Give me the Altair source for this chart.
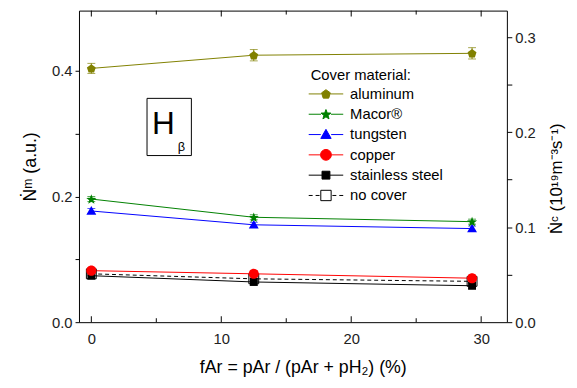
import math
import altair as alt
import pandas as pd

# ---------------- data ----------------
f_ar = [0, 12.5, 29.3]
materials = ["aluminum", "Macor®", "tungsten", "copper", "stainless steel", "no cover"]
aluminum = [0.404, 0.425, 0.428]
macor = [0.196, 0.167, 0.160]
tungsten = [0.177, 0.155, 0.149]
copper = [0.082, 0.077, 0.070]
stainless = [0.074, 0.064, 0.058]
no_cover = [0.077, 0.069, 0.065]
aluminum_err = [0.008, 0.009, 0.009]
macor_err = [0.004, 0.004, 0.004]
tungsten_err = [0.004, 0.004, 0.004]
copper_err = [0.005, 0.005, 0.005]
stainless_err = [0.005, 0.005, 0.005]
no_cover_err = [0.003, 0.003, 0.003]

left_ticks = [0, 0.1, 0.2, 0.3, 0.4]
right_ticks = [0, 0.05, 0.1, 0.15, 0.2, 0.25, 0.3]
x_label_ticks = [0, 10, 20, 30]
x_minor_ticks = [5, 15, 25]

series = [aluminum, macor, tungsten, copper, stainless, no_cover]
errors = [aluminum_err, macor_err, tungsten_err, copper_err, stainless_err, no_cover_err]
rows = []
for m, ys, es in zip(materials, series, errors):
    for x, y, e in zip(f_ar, ys, es):
        rows.append({"material": m, "f": x, "y": y, "e": e})
df = pd.DataFrame(rows)
major_df = pd.DataFrame({"t": x_label_ticks})
minor_df = pd.DataFrame({"t": x_minor_ticks})

# ---------------- styles ----------------
FONT = "Liberation Sans"
stroke_colors = ["#808000", "#008000", "#0000ff", "#ff0000", "#000000", "#000000"]
fill_colors = ["#808000", "#008000", "#0000ff", "#ff0000", "#000000", "#ffffff"]


def poly(pts):
    return "M" + " L".join(f"{x:.3f},{y:.3f}" for x, y in pts) + " Z"


def pentagon(r):
    return poly([(r * math.cos(math.radians(-90 + 72 * k)),
                  r * math.sin(math.radians(-90 + 72 * k)) + 0.09 * r) for k in range(5)])


def star(r):
    pts = []
    for k in range(10):
        rr = r if k % 2 == 0 else 0.42 * r
        a = math.radians(-90 + 36 * k)
        pts.append((rr * math.cos(a), rr * math.sin(a) + 0.09 * r))
    return poly(pts)


def triangle(r):
    return poly([(0, -r), (r, 0.75 * r), (-r, 0.75 * r)])


def circle(r):
    return f"M{r},0 A{r},{r} 0 1,1 {-r},0 A{r},{r} 0 1,1 {r},0 Z"


def square(h):
    return f"M{-h},{-h} H{h} V{h} H{-h} Z"


plot_shapes = [pentagon(1), star(1), triangle(1), circle(1), square(1), square(1)]
plot_sizes = [90, 115, 100, 105, 64, 100]

legend_markers = [(pentagon(0.95), 0.95), (star(1.05), 1.0), (triangle(1.05), 1.05),
                  (circle(1.1), 1.1), (square(0.8), 0.8), (square(1.05), 1.05)]
legend_paths = []
for i, (mk, half) in enumerate(legend_markers):
    if materials[i] == "no cover":
        line = "M-3.5,0 H-2.7 M-2.1,0 H-1.3 M1.3,0 H2.1 M2.7,0 H3.5 "
    else:
        line = f"M-3.5,0 H{-half} M{half},0 H3.5 "
    legend_paths.append(line + mk)

XS = alt.Scale(domain=[-0.95, 31.98], nice=False, zero=False)
YS = alt.Scale(domain=[0, 0.496], nice=False, zero=False)
YR = alt.Scale(domain=[0, 0.328], nice=False, zero=False)
W, H = 434, 316

X = alt.X("f:Q", scale=XS, axis=None)
Y = alt.Y("y:Q", scale=YS, axis=None)

base = alt.Chart(df)
empty = base.transform_filter("false")

x_axis = alt.Axis(orient="bottom", values=x_label_ticks, format="d", ticks=False,
                  labelPadding=10, domain=False, title="fAr = pAr / (pAr + pH₂) (%)",
                  titlePadding=12, titleFontSize=18, titleX=227)
y_axis = alt.Axis(orient="left", values=left_ticks,
                  labelExpr="round(datum.value*10) % 2 == 0 ? format(datum.value, '.1f') : ''",
                  tickSize=4, labelPadding=3, domain=False, title="Ṅᵐ (a.u.)",
                  titlePadding=12, titleFontSize=18)

layers = []

# annotation box  H_beta
annot = pd.DataFrame({"t": ["H"]})
layers.append(alt.Chart(annot).mark_rect(fill="white", stroke="black", strokeWidth=1).encode(
    x=alt.value(69), x2=alt.value(114), y=alt.value(89), y2=alt.value(147)))
layers.append(alt.Chart(annot).mark_text(text="H", font=FONT, fontSize=32, align="center",
                                         baseline="alphabetic", color="black").encode(
    x=alt.value(85.5), y=alt.value(125)))
layers.append(alt.Chart(annot).mark_text(text="β", font=FONT, fontSize=13, align="center",
                                         baseline="alphabetic", color="black").encode(
    x=alt.value(104), y=alt.value(142)))

# inward ticks on bottom and top edges
for tdf, ln in ((major_df, 6), (minor_df, 4)):
    tx = alt.X("t:Q", scale=XS, axis=None)
    layers.append(alt.Chart(tdf).mark_rule(color="black", strokeWidth=1).encode(
        x=tx, y=alt.value(H), y2=alt.value(H - ln)))
    layers.append(alt.Chart(tdf).mark_rule(color="black", strokeWidth=1).encode(
        x=tx, y=alt.value(0), y2=alt.value(ln)))

order = [5, 4, 3, 2, 1, 0]
# lines (first one carries the left / bottom axes)
first = True
for i in order:
    m = materials[i]
    sel = base.transform_filter(alt.datum.material == m)
    if first:
        enc = dict(x=alt.X("f:Q", scale=XS, axis=x_axis), y=alt.Y("y:Q", scale=YS, axis=y_axis))
        first = False
    else:
        enc = dict(x=X, y=Y)
    if m == "no cover":
        layers.append(sel.mark_line(color=stroke_colors[i], strokeWidth=1, strokeDash=[4, 3]).encode(**enc))
    else:
        layers.append(sel.mark_line(color=stroke_colors[i], strokeWidth=1).encode(**enc))
# error bars
for i in order:
    m = materials[i]
    sel = base.transform_filter(alt.datum.material == m).transform_calculate(
        lo="datum.y - datum.e", hi="datum.y + datum.e")
    c = stroke_colors[i]
    layers.append(sel.mark_rule(color=c, strokeWidth=1).encode(
        x=X, y=alt.Y("lo:Q", scale=YS, axis=None), y2="hi:Q"))
    layers.append(sel.mark_tick(color=c, orient="horizontal", size=8, thickness=1).encode(
        x=X, y=alt.Y("lo:Q", scale=YS, axis=None)))
    layers.append(sel.mark_tick(color=c, orient="horizontal", size=8, thickness=1).encode(
        x=X, y=alt.Y("hi:Q", scale=YS, axis=None)))
# markers
for i in order:
    m = materials[i]
    sel = base.transform_filter(alt.datum.material == m)
    if m == "no cover":
        mk = sel.mark_point(shape=plot_shapes[i], size=plot_sizes[i], filled=False,
                            color="black", strokeWidth=1, opacity=1)
    else:
        mk = sel.mark_point(shape=plot_shapes[i], size=plot_sizes[i], filled=True,
                            color=stroke_colors[i], opacity=1)
    layers.append(mk.encode(x=X, y=Y))

leg = alt.Legend(title="Cover material:", orient="none", legendX=235, legendY=58, padding=0,
                 symbolSize=100, symbolStrokeWidth=1, symbolOffset=8, labelOffset=17,
                 rowPadding=4.6, titlePadding=4, labelFont=FONT, titleFont=FONT,
                 labelFontSize=15, titleFontSize=15, titleFontWeight="normal",
                 labelColor="black", titleColor="black")
layers.append(empty.mark_point(filled=True, opacity=1, strokeWidth=1).encode(
    fill=alt.Fill("material:N", scale=alt.Scale(domain=materials, range=fill_colors), legend=leg),
    stroke=alt.Stroke("material:N", scale=alt.Scale(domain=materials, range=stroke_colors), legend=leg),
    shape=alt.Shape("material:N", scale=alt.Scale(domain=materials, range=legend_paths), legend=leg),
))

# right axis
layers.append(empty.mark_point().encode(
    y=alt.Y("y:Q", scale=YR, axis=alt.Axis(
        orient="right", values=right_ticks,
        labelExpr="round(datum.value*100) % 10 == 0 ? format(datum.value, '.1f') : ''",
        tickSize=5, labelPadding=3, domain=False, title="Ṅᶜ (10¹⁹m⁻³s⁻¹)", titleAngle=270,
        titleBaseline="top", titlePadding=14, titleFontSize=17, titleY=170))))

chart = alt.layer(*layers).resolve_scale(y="independent").resolve_axis(x="independent").properties(
    width=W, height=H,
    autosize=alt.AutoSizeParams(type="none"),
    padding={"left": 72, "top": 0, "right": 63, "bottom": 56},
).configure_view(stroke="black", strokeWidth=1).configure_axis(
    grid=False, labelFont=FONT, labelFontSize=15, titleFont=FONT, titleFontSize=16,
    titleFontWeight="normal", labelColor="#222222", titleColor="black",
    domainColor="black", tickColor="black", domainWidth=1, tickWidth=1,
)

chart.save("out.html", embed_options={"renderer": "svg", "actions": False})
